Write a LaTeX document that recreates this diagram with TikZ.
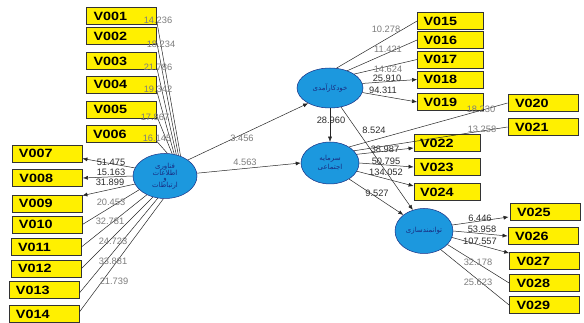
\documentclass[tikz,border=0pt]{standalone}
\usepackage{fontspec}
\setmainfont{Liberation Sans}
\newfontfamily\boxfont{Liberation Sans}[FakeStretch=1.2]
\newfontfamily\fa[Script=Arabic]{DejaVu Sans}
\TeXXeTstate=1
\usetikzlibrary{arrows.meta,calc,shapes.geometric}
\definecolor{boxyellow}{RGB}{255,240,0}
\definecolor{lvblue}{RGB}{28,152,222}
\definecolor{lvtext}{RGB}{25,45,130}
\definecolor{numgray}{RGB}{125,125,125}
\definecolor{numdark}{RGB}{45,45,45}
\begin{document}
\begin{tikzpicture}[x=1pt,y=-1pt,
  ind/.style={draw=black!80, line width=0.8pt, fill=boxyellow, minimum width=70pt,
    minimum height=17pt, inner sep=0pt, text width=56pt, align=left,
    font={\boxfont\bfseries\fontsize{12}{12}\selectfont}},
  lv/.style={ellipse, draw=lvtext, line width=0.5pt, fill=lvblue, inner sep=0pt,
    text=lvtext, align=center, font={\fa\fontsize{7}{7.5}\selectfont}},
  conn/.style={draw=black!85, line width=0.5pt},
  arr/.style={conn, -{Latex[length=5pt,width=4pt]}},
  ng/.style={text=numgray, inner sep=0pt, font={\fontsize{9.3}{10}\selectfont}},
  nd/.style={text=numdark, inner sep=0pt, font={\fontsize{9.3}{10}\selectfont}}]
\useasboundingbox[fill=white] (0,0) rectangle (584,323);

% indicator boxes
\node[ind] (V001) at (121.5,16) {V001};
\node[ind] (V002) at (121.5,36) {V002};
\node[ind] (V003) at (121.5,61) {V003};
\node[ind] (V004) at (121.5,84.5) {V004};
\node[ind] (V005) at (121.5,109.5) {V005};
\node[ind] (V006) at (121,134) {V006};
\node[ind] (V007) at (47,153.5) {V007};
\node[ind] (V008) at (47.5,178) {V008};
\node[ind] (V009) at (47,203.5) {V009};
\node[ind] (V010) at (47,224.5) {V010};
\node[ind] (V011) at (46,247) {V011};
\node[ind] (V012) at (46,268.5) {V012};
\node[ind] (V013) at (44,290) {V013};
\node[ind] (V014) at (44,314) {V014};
\node[ind,minimum width=66pt,text width=54pt] (V015) at (450.5,21) {V015};
\node[ind,minimum width=66pt,text width=54pt] (V016) at (450.5,40) {V016};
\node[ind,minimum width=66pt,text width=54pt] (V017) at (450.5,59.5) {V017};
\node[ind,minimum width=66pt,text width=54pt] (V018) at (450.5,79.5) {V018};
\node[ind,minimum width=66pt,text width=54pt] (V019) at (450.5,102) {V019};
\node[ind] (V020) at (543,103) {V020};
\node[ind] (V021) at (543,127) {V021};
\node[ind,minimum width=66pt,text width=54pt] (V022) at (447,143) {V022};
\node[ind,minimum width=66pt,text width=54pt] (V023) at (447,167) {V023};
\node[ind,minimum width=66pt,text width=54pt] (V024) at (447,192) {V024};
\node[ind] (V025) at (545,212) {V025};
\node[ind] (V026) at (543,236) {V026};
\node[ind] (V027) at (544.5,261) {V027};
\node[ind] (V028) at (544.5,283) {V028};
\node[ind] (V029) at (544.5,305) {V029};

% latent variables
\node[lv, minimum width=64pt, minimum height=45pt] (ICT) at (165,176)
  {\beginR فناوری\endR\\[-1pt]\beginR اطلاعات\endR\\[-2pt]\beginR و\endR\\[-1pt]\beginR ارتباطات\endR};
\node[lv, minimum width=66pt, minimum height=40pt] (SE) at (330,88)
  {\beginR خودکارآمدی\endR};
\node[lv, minimum width=58pt, minimum height=42pt] (SC) at (330,163)
  {\beginR سرمایه\endR\\[2pt]\beginR اجتماعی\endR};
\node[lv, minimum width=58pt, minimum height=45pt] (EMP) at (424,231)
  {\beginR توانمندسازی\endR};

% ICT indicators
\draw[conn] ($(V001.south east)+(0,-3)$) -- (ICT.52);
\draw[conn] ($(V002.south east)+(0,-2)$) -- (ICT.57);
\draw[conn] ($(V003.south east)+(0,-2)$) -- (ICT.62);
\draw[conn] ($(V004.south east)+(0,-2)$) -- (ICT.67);
\draw[conn] ($(V005.south east)+(0,-2)$) -- (ICT.72);
\draw[conn] ($(V006.south east)+(0,-2)$) -- (ICT.84);
\draw[arr] (ICT.165) -- ($(V007.east)+(0,5)$);
\draw[arr] (ICT.180) -- (V008.east);
\draw[arr] (ICT.195) -- ($(V009.north east)+(0,1)$);
\draw[conn] (ICT.208) -- (V010.east);
\draw[conn] (ICT.226) -- (V011.east);
\draw[conn] (ICT.240) -- (V012.east);
\draw[conn] (ICT.252) -- ($(V013.east)+(0,3)$);
\draw[conn] (ICT.266) -- ($(V014.east)+(0,-2)$);

% structural paths
\draw[arr] (ICT.35) -- (SE.215);
\draw[arr] (ICT.5) -- (SC.west);
\draw[arr] (SE.south) -- (SC.north);
\draw[arr] (SE.300) -- (EMP.118);
\draw[arr] (SC.320) -- (EMP.142);

% self-efficacy indicators
\draw[conn] (SE.72) -- (V015.west);
\draw[conn] (SE.45) -- (V016.west);
\draw[conn] (SE.30) -- (V017.west);
\draw[arr] (SE.8) -- (V018.west);
\draw[arr] (SE.352) -- (V019.west);

% social capital indicators
\draw[conn] (SC.40) -- (V020.west);
\draw[conn] (SC.27) -- (V021.west);
\draw[arr] (SC.18) -- ($(V022.west)+(0,5)$);
\draw[arr] (SC.0) -- (V023.west);
\draw[arr] (SC.343) -- ($(V024.west)+(0,-6)$);

% empowerment indicators
\draw[arr] (EMP.12) -- ($(V025.west)+(-1,5)$);
\draw[arr] (EMP.0) -- (V026.west);
\draw[arr] (EMP.347) -- ($(V027.north west)+(0,1)$);
\draw[conn] (EMP.330) -- (V028.west);
\draw[conn] (EMP.312) -- (V029.west);

% loadings / t-values
\node[ng] (l001) at (158,20) {14.236};
\node[ng] (l002) at (161,44) {18.234};
\node[ng] (l003) at (158,67) {21.786};
\node[ng] (l004) at (158,89) {19.342};
\node[ng] (l005) at (155,117) {17.867};
\node[ng] (l006) at (157,138) {16.145};
\node[nd] (l007) at (111,162) {51.475};
\node[nd] (l008) at (111,172) {15.163};
\node[nd] (l009) at (110,182) {31.899};
\node[ng] (l010) at (111,202) {20.453};
\node[ng] (l011) at (110,221) {32.781};
\node[ng] (l012) at (113,241) {24.723};
\node[ng] (l013) at (113,261) {33.881};
\node[ng] (l014) at (114,281) {21.739};
\node[ng] (l015) at (386,29) {10.278};
\node[ng] (l016) at (388,49) {11.421};
\node[ng] (l017) at (388,69) {14.624};
\node[nd] (l018) at (387,78) {25.910};
\node[nd] (l019) at (383,90) {94.311};
\node[ng] (l020) at (481,109) {18.230};
\node[ng] (l021) at (482,129) {13.258};
\node[nd] (l022) at (385,149) {38.987};
\node[nd] (l023) at (386,161) {50.795};
\node[nd] (l024) at (386,172) {134.052};
\node[nd] (l025) at (480,218) {6.446};
\node[nd] (l026) at (482,229) {53.958};
\node[nd] (l027) at (480,241) {107.557};
\node[ng] (l028) at (478,262) {32.178};
\node[ng] (l029) at (478,282) {25.623};
\node[ng] (s1) at (242,138) {3.456};
\node[ng] (s2) at (245,162) {4.563};
\node[nd] (s3) at (331,120) {28.960};
\node[nd] (s4) at (374,130) {8.524};
\node[nd] (s5) at (377,193) {9.527};
\end{tikzpicture}
\end{document}
